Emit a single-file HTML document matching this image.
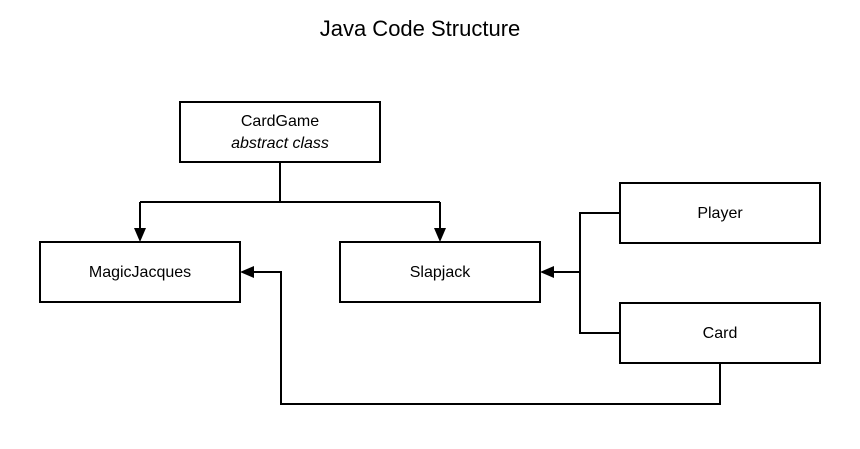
<!DOCTYPE html>
<html><head><style>body{margin:0;background:#fff}</style></head><body>
<svg width="860" height="444" xmlns="http://www.w3.org/2000/svg" font-family="Liberation Sans, sans-serif">
<rect width="860" height="444" fill="#fff"/>
<text x="420" y="36" font-size="22" text-anchor="middle" fill="#000">Java Code Structure</text>
<g fill="#fff" stroke="#000" stroke-width="2">
<rect x="180" y="102" width="200" height="60"/>
<rect x="40" y="242" width="200" height="60"/>
<rect x="340" y="242" width="200" height="60"/>
<rect x="620" y="183" width="200" height="60"/>
<rect x="620" y="303" width="200" height="60"/>
</g>
<g fill="none" stroke="#000" stroke-width="2">
<path d="M280 162V202M140 202H440M140 202V230M440 202V230"/>
<path d="M620 213H580V333H620M580 272H552"/>
<path d="M720 363V404H281V272H252"/>
</g>
<g fill="#000">
<path d="M134 228L146 228L140 242Z"/>
<path d="M434 228L446 228L440 242Z"/>
<path d="M554 266L554 278L540 272Z"/>
<path d="M254 266L254 278L240 272Z"/>
</g>
<g font-size="16" text-anchor="middle" fill="#000">
<text x="280" y="126">CardGame</text>
<text x="280" y="148" font-style="italic">abstract class</text>
<text x="140" y="277">MagicJacques</text>
<text x="440" y="277">Slapjack</text>
<text x="720" y="218">Player</text>
<text x="720" y="338">Card</text>
</g>
</svg>
</body></html>
